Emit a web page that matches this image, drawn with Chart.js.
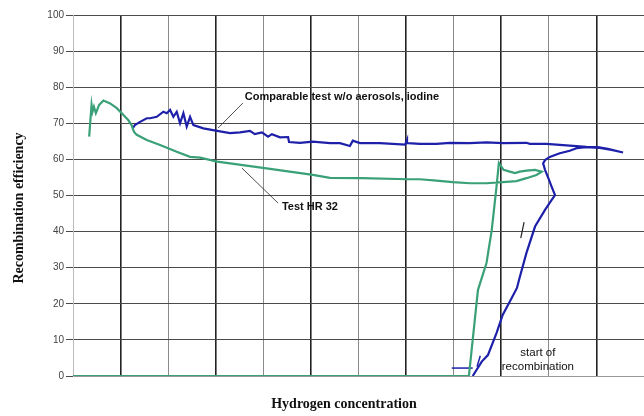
<!DOCTYPE html>
<html>
<head>
<meta charset="utf-8">
<script src="https://cdn.jsdelivr.net/npm/chart.js@4"></script>
<style>
  html, body { margin: 0; padding: 0; background: #fff; }
</style>
</head>
<body>
<canvas id="effChart" width="644" height="416"></canvas>
<script>
// y ticks 0..100, x has only gridlines (no labels)
const yTicks = [0, 10, 20, 30, 40, 50, 60, 70, 80, 90, 100];

// Test HR 32 (green): along zero, jump up, wiggle, then back left
const hrX = [0, 8.32, 8.40, 8.51, 8.69, 8.80, 8.90, 8.95, 9.05, 9.18, 9.29, 9.39, 9.53, 9.71, 9.85,
  9.74, 9.53, 9.32, 9.03, 8.69, 8.34, 7.98, 7.64, 7.29, 7.04, 6.07, 5.40, 5.04, 4.03, 3.03, 2.67,
  2.46, 2.18, 1.83, 1.55, 1.34, 1.28, 1.23, 1.16, 1.06, 0.92, 0.78, 0.64, 0.55, 0.48, 0.44, 0.41, 0.39, 0.34];
const hrY = [0, 0, 10.0, 23.8, 31.3, 40.4, 52.4, 59.0, 57.1, 56.6, 56.2, 56.6, 56.9, 57.1, 56.6,
  55.7, 54.8, 54.0, 53.7, 53.4, 53.4, 53.7, 54.1, 54.5, 54.5, 54.8, 54.9, 55.7, 57.6, 59.4, 60.5,
  60.7, 62.1, 64.0, 65.4, 66.8, 67.7, 69.5, 70.9, 72.3, 74.2, 75.5, 76.3, 75.1, 72.8, 74.6, 73.2, 75.1, 66.3];

// Comparable test w/o aerosols, iodine (blue)
const cmpX = [8.40, 8.59, 8.72, 8.90, 9.03, 9.20, 9.33, 9.39, 9.53, 9.71, 9.92, 10.06, 10.13, 10.06,
  9.99, 9.92, 9.88, 9.92, 10.02, 10.23, 10.44, 10.58, 10.79, 11.07, 11.32, 11.56,
  11.24, 11.03, 10.79, 10.58, 10.23, 9.95, 9.60, 9.53, 9.04, 8.69, 8.34, 7.92, 7.64, 7.29, 7.04,
  7.02, 6.98, 6.45, 6.03, 5.88, 5.82, 5.61, 5.40, 5.04, 4.77, 4.54, 4.52, 4.35, 4.18, 4.10, 3.97,
  3.82, 3.72, 3.51, 3.30, 3.03, 2.74, 2.53, 2.46, 2.39, 2.32, 2.25, 2.18, 2.11, 2.04, 1.97, 1.90,
  1.76, 1.62, 1.55, 1.41, 1.30, 1.26];
const cmpY = [0, 4.0, 5.8, 11.9, 16.9, 21.1, 24.4, 27.4, 34.1, 41.4, 46.0, 48.8, 50.1, 52.4,
  54.8, 57.1, 58.9, 59.8, 60.7, 61.7, 62.4, 63.1, 63.4, 63.2, 62.6, 61.9,
  62.9, 63.4, 63.5, 63.7, 64.0, 64.3, 64.3, 64.6, 64.5, 64.7, 64.5, 64.6, 64.3, 64.3, 64.5,
  65.4, 64.1, 64.5, 64.5, 65.2, 63.7, 64.5, 64.5, 64.9, 64.6, 64.8, 66.2, 66.1, 67.0, 66.3, 67.5,
  67.0, 67.9, 67.5, 67.3, 67.9, 68.6, 69.5, 71.8, 69.1, 72.8, 70.0, 73.2, 71.8, 73.7, 72.8, 73.2,
  71.8, 71.4, 71.4, 70.4, 69.5, 68.7];

// annotation pieces (data coordinates)
const startMarkX = [7.96, 8.40];
const startMarkY = [2.2, 2.2];
const arrow1X = [8.49, 8.56];
const arrow1Y = [2.6, 5.6];
const arrow2X = [9.41, 9.48];
const arrow2Y = [38.2, 42.6];
const leaderCmpX = [3.57, 3.05];
const leaderCmpY = [75.6, 68.7];
const leaderHrX = [3.55, 4.31];
const leaderHrY = [57.6, 47.9];

const labels = [
  { text: "Comparable test w/o aerosols, iodine", x: 3.61, y: 77.3, font: "bold 11px 'Liberation Sans', Arial, sans-serif", align: "left" },
  { text: "Test HR 32", x: 4.39, y: 46.8, font: "bold 11px 'Liberation Sans', Arial, sans-serif", align: "left" },
  { text: "start of", x: 9.77, y: 6.4, font: "11.5px 'Liberation Sans', Arial, sans-serif", align: "center" },
  { text: "recombination", x: 9.77, y: 2.5, font: "11.5px 'Liberation Sans', Arial, sans-serif", align: "center" },
];

const GREEN = "rgb(58, 160, 120)";
const BLUE = "rgb(30, 32, 170)";

const pts = (xs, ys) => xs.map((x, i) => ({ x: x, y: ys[i] }));

function seg(xs, ys, color, width) {
  return {
    data: pts(xs, ys),
    borderColor: color,
    borderWidth: width,
    pointRadius: 0,
    showLine: true,
    fill: false,
    tension: 0,
  };
}

// texts and axis titles
const textPlugin = {
  id: "texts",
  afterDatasetsDraw(chart) {
    const c = chart.ctx;
    const xs = chart.scales.x, ys = chart.scales.y;
    c.save();
    c.fillStyle = "#111";
    c.textBaseline = "middle";
    labels.forEach((l) => {
      c.font = l.font;
      c.textAlign = l.align;
      c.fillText(l.text, xs.getPixelForValue(l.x), ys.getPixelForValue(l.y));
    });
    // axis titles
    c.font = "bold 14px 'Liberation Serif', 'Times New Roman', serif";
    c.textAlign = "center";
    c.fillText("Hydrogen concentration", 344, 404);
    c.translate(19, 208);
    c.rotate(-Math.PI / 2);
    c.fillText("Recombination efficiency", 0, 0);
    c.restore();
  },
};

const ctx = document.getElementById("effChart").getContext("2d");
new Chart(ctx, {
  type: "scatter",
  data: {
    datasets: [
      seg(hrX, hrY, GREEN, 2.2),
      seg(cmpX, cmpY, BLUE, 2.2),
      seg(startMarkX, startMarkY, BLUE, 1.5),
      seg(arrow1X, arrow1Y, BLUE, 1.5),
      seg(arrow2X, arrow2Y, "#222", 1.2),
      seg(leaderCmpX, leaderCmpY, "#222", 0.8),
      seg(leaderHrX, leaderHrY, "#222", 0.8),
    ],
  },
  options: {
    responsive: false,
    animation: false,
    layout: { padding: { top: 15, right: 0, left: 0, bottom: 0 } },
    plugins: {
      legend: { display: false },
      tooltip: { enabled: false },
    },
    scales: {
      x: {
        type: "linear",
        min: 0,
        max: 12,
        ticks: { display: false, stepSize: 1 },
        grid: {
          drawTicks: false,
          color: (c) => (c.tick.value % 2 === 1 ? "#222" : "#8a8a8a"),
          lineWidth: (c) => (c.tick.value % 2 === 1 ? 1.6 : 1),
        },
        border: { color: "#999" },
        afterFit: (s) => { s.height = 40; },
      },
      y: {
        min: 0,
        max: 100,
        afterBuildTicks: (s) => { s.ticks = yTicks.map((v) => ({ value: v })); },
        ticks: {
          color: "#444",
          font: { size: 10, family: "'Liberation Sans', Arial, sans-serif" },
          padding: 2,
        },
        grid: { color: "#4a4a4a", lineWidth: 1, tickLength: 7 },
        border: { color: "#bbb" },
        afterFit: (s) => { s.width = 73; },
      },
    },
  },
  plugins: [textPlugin],
});
</script>
</body>
</html>
